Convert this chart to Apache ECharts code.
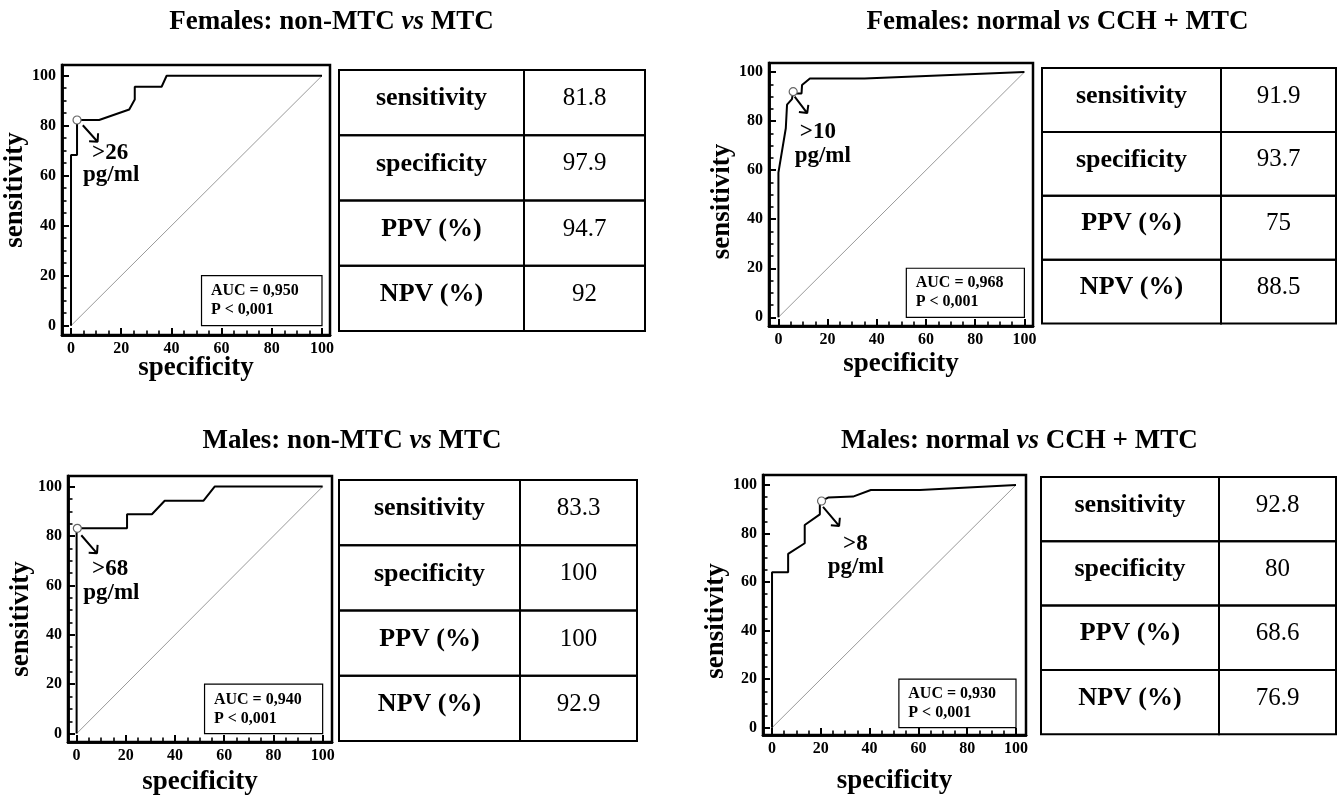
<!DOCTYPE html>
<html>
<head>
<meta charset="utf-8">
<title>ROC curves</title>
<script src="https://cdn.jsdelivr.net/npm/echarts@6/dist/echarts.min.js"></script>
<style>
html, body { margin: 0; padding: 0; background: #fff; }
#main { width: 1343px; height: 795px; }
</style>
</head>
<body>
<div id="main"></div>
<script>
// ---- data ----
// ROC curves, points are [specificity axis, sensitivity]
var rocFemNon = [[0,0],[0,68.3],[2.4,68.3],[2.4,82.3],[11.2,82.3],[23.2,86.5],[25.4,90.5],[25.4,95.6],[36.1,95.6],[38.1,100],[100,100]];
var rocFemCch = [[0,0],[0,59],[3,77.1],[3.5,86.7],[5.5,89],[6,92],[7,91.3],[9.4,91.3],[9.6,94.7],[12.8,97.4],[35,97.4],[100,100]];
var rocMalNon = [[0,0],[0,83.1],[20.5,83.1],[20.5,88.8],[30.6,88.8],[35.8,94.3],[51.6,94.3],[56.1,100],[100,100]];
var rocMalCch = [[0,0],[0,64],[6.6,64],[6.6,71.6],[13.4,76],[13.4,83.5],[19.6,87.9],[19.6,92],[20.3,93.4],[23,94.8],[33.2,95.2],[40.5,97.9],[60.6,97.9],[100,100]];

// optimal cut-off points
var cutPoints = [[2.4,82.3],[6,92],[0.3,83.1],[20.3,93.4]];
var cutLabels = ['>26', '>10', '>68', '>8'];
var cutUnit = 'pg/ml';

var aucValues = ['0,950', '0,968', '0,940', '0,930'];
var pValue = 'P < 0,001';

var titleGroups = ['Females: non-MTC', 'Females: normal', 'Males: non-MTC', 'Males: normal'];
var titleTargets = ['MTC', 'CCH + MTC', 'MTC', 'CCH + MTC'];

var tableRows = ['sensitivity', 'specificity', 'PPV (%)', 'NPV (%)'];
var femNonVals = ['81.8', '97.9', '94.7', '92'];
var femCchVals = ['91.9', '93.7', '75', '88.5'];
var malNonVals = ['83.3', '100', '100', '92.9'];
var malCchVals = ['92.8', '80', '68.6', '76.9'];

var majorTicks = [0, 20, 40, 60, 80, 100];
var minorTicks = [];
for (var t = 5; t < 100; t += 5) { if (t % 20 !== 0) minorTicks.push(t); }

// ---- layout ----
var SERIF = '"Liberation Serif", "Times New Roman", serif';
var panels = [
  { roc: rocFemNon, vals: femNonVals, grid: [62, 65, 268, 270], xr: [-3.59, 103.19], yr: [-3.72, 104.3], xGap: 33, yGap: 40, yPad: [0, 0, 0, 20],
    table: [339, 70, 185, 121, 65.25], title: [331.5, 22],
    cutTxt: [8.4, 69], unitTxt: [4.8, 60.3], arrow: [[4.7, 80.2], [10.6, 73.6]] },
  { roc: rocFemCch, vals: femCchVals, grid: [769, 63, 264, 263], xr: [-3.83, 103.5], yr: [-3.55, 103.7], xGap: 38, yGap: 45, yPad: [0, 14, 0, 0],
    table: [1042, 68, 179, 115, 63.9], title: [1057.5, 22],
    cutTxt: [8.7, 75.4], unitTxt: [6.6, 65.8], arrow: [[6.6, 90], [11.7, 83.3]] },
  { roc: rocMalNon, vals: malNonVals, grid: [68, 476, 264, 266], xr: [-3.5, 103.8], yr: [-3.4, 104.3], xGap: 40, yGap: 45, yPad: [0, 20, 0, 0],
    table: [339, 480, 181, 117, 65.25], title: [352, 441],
    cutTxt: [6.3, 66.6], unitTxt: [2.7, 57.1], arrow: [[1.9, 80.3], [8.3, 73]] },
  { roc: rocMalCch, vals: malCchVals, grid: [763, 475, 263, 260], xr: [-3.7, 104.1], yr: [-3.0, 104.1], xGap: 46, yGap: 41, yPad: [0, 32, 0, 0],
    table: [1041, 477, 178, 117, 64.3], title: [1019.4, 441],
    cutTxt: [29.1, 75.7], unitTxt: [22.8, 66], arrow: [[20.9, 91], [27.5, 83.1]] }
];
var aucBox = [[52, 0], [100, 20]];

function arrowPath(a) {
  // shaft plus two barbs of an open arrow head
  var s = a[0], e = a[1];
  var ang = Math.atan2(s[1] - e[1], s[0] - e[0]);
  var len = 3.4, spread = Math.PI / 4;
  var b1 = [e[0] + len * Math.cos(ang + spread), e[1] + len * Math.sin(ang + spread)];
  var b2 = [e[0] + len * Math.cos(ang - spread), e[1] + len * Math.sin(ang - spread)];
  return [s, e, b1, e, b2];
}

// fresh objects for every axis
function frameLine() { return { show: true, onZero: false, lineStyle: { color: '#000', width: 2.5 } }; }
function majorTick() { return { show: true, inside: true, length: 7, customValues: majorTicks.slice(), lineStyle: { color: '#000', width: 2 } }; }
function minorTick() { return { show: true, inside: true, length: 4.5, customValues: minorTicks.slice(), lineStyle: { color: '#000', width: 1.6 } }; }
function tickLabel(m) { return { customValues: majorTicks.slice(), margin: m, fontFamily: SERIF, fontWeight: 'bold', fontSize: 16, color: '#000' }; }

var myChart = echarts.init(document.getElementById('main'));
var option = {
  animation: false,
  backgroundColor: '#fff',
  grid: [], xAxis: [], yAxis: [], series: [], graphic: []
};

panels.forEach(function (p, i) {
  option.grid.push({ left: p.grid[0], top: p.grid[1], width: p.grid[2], height: p.grid[3],
    show: true, borderColor: '#000', borderWidth: 2.5, backgroundColor: 'transparent' });

  // major ticks + labels
  option.xAxis.push({ type: 'value', gridIndex: i, position: 'bottom', min: p.xr[0], max: p.xr[1],
    axisLine: frameLine(), splitLine: { show: false }, axisTick: majorTick(), axisLabel: tickLabel(6) });
  // minor ticks
  option.xAxis.push({ type: 'value', gridIndex: i, position: 'bottom', min: p.xr[0], max: p.xr[1],
    axisLine: frameLine(), splitLine: { show: false }, axisTick: minorTick(), axisLabel: { show: false } });

  option.yAxis.push({ type: 'value', gridIndex: i, position: 'left', min: p.yr[0], max: p.yr[1],
    name: 'sensitivity', nameLocation: 'middle', nameRotate: 90, nameGap: p.yGap,
    nameTextStyle: { fontFamily: SERIF, fontWeight: 'bold', fontSize: 27, color: '#000', verticalAlign: 'middle', padding: p.yPad },
    axisLine: frameLine(), splitLine: { show: false }, axisTick: majorTick(), axisLabel: tickLabel(6) });
  option.yAxis.push({ type: 'value', gridIndex: i, position: 'left', min: p.yr[0], max: p.yr[1],
    axisLine: frameLine(), splitLine: { show: false }, axisTick: minorTick(), axisLabel: { show: false } });

  var ax = { xAxisIndex: 2 * i, yAxisIndex: 2 * i };

  // reference diagonal
  option.series.push(Object.assign({ type: 'line', data: [[0, 0], [100, 100]], symbol: 'none', silent: true,
    lineStyle: { color: '#9a9a9a', width: 1 } }, ax));

  // ROC curve + AUC box
  option.series.push(Object.assign({ type: 'line', data: p.roc, symbol: 'none', silent: true,
    lineStyle: { color: '#000', width: 2 }, z: 3,
    markArea: { silent: true,
      itemStyle: { color: 'rgba(0,0,0,0)', borderColor: '#000', borderWidth: 1.2 },
      label: { show: true, position: 'insideLeft', distance: 10, color: '#000',
        fontFamily: SERIF, fontWeight: 'bold', fontSize: 16, lineHeight: 19,
        formatter: 'AUC = ' + aucValues[i] + '\n' + pValue },
      data: [[{ coord: aucBox[0] }, { coord: aucBox[1] }]] } }, ax));

  // arrow to cut-off
  option.series.push(Object.assign({ type: 'line', data: arrowPath(p.arrow), symbol: 'none', silent: true,
    lineStyle: { color: '#000', width: 2 }, z: 3 }, ax));

  // cut-off marker
  option.series.push(Object.assign({ type: 'scatter', data: [cutPoints[i]], symbol: 'circle', symbolSize: 8, silent: true,
    itemStyle: { color: '#fff', borderColor: '#666', borderWidth: 1.2, opacity: 1 }, z: 5 }, ax));

  // cut-off text
  option.series.push(Object.assign({ type: 'scatter', symbolSize: 0, silent: true,
    itemStyle: { opacity: 1 },
    data: [{ name: cutLabels[i], value: p.cutTxt }, { name: cutUnit, value: p.unitTxt }],
    label: { show: true, position: 'right', distance: 0, formatter: '{b}', color: '#000', opacity: 1,
      fontFamily: SERIF, fontWeight: 'bold', fontSize: 23 } }, ax));

  // x axis title, centred under the frame
  option.graphic.push({ type: 'text', silent: true,
    x: p.grid[0] + p.grid[2] / 2, y: p.grid[1] + p.grid[3] + p.xGap,
    style: { text: 'specificity', align: 'center', verticalAlign: 'middle', fill: '#000',
      fontFamily: SERIF, fontWeight: 'bold', fontSize: 27 } });

  // panel title
  option.graphic.push({ type: 'text', x: p.title[0], y: p.title[1], silent: true,
    style: { text: '{b|' + titleGroups[i] + ' }{i|vs}{b| ' + titleTargets[i] + '}',
      align: 'center', verticalAlign: 'middle',
      rich: { b: { fontFamily: SERIF, fontWeight: 'bold', fontSize: 27, fill: '#000' },
              i: { fontFamily: SERIF, fontWeight: 'bold', fontStyle: 'italic', fontSize: 27, fill: '#000' } } } });

  // table
  var tb = p.table;
  tableRows.forEach(function (r, k) {
    var y = tb[1] + k * tb[4];
    option.graphic.push({ type: 'rect', silent: true, shape: { x: tb[0], y: y, width: tb[2], height: tb[4] },
      style: { fill: 'none', stroke: '#000', lineWidth: 2 } });
    option.graphic.push({ type: 'rect', silent: true, shape: { x: tb[0] + tb[2], y: y, width: tb[3], height: tb[4] },
      style: { fill: 'none', stroke: '#000', lineWidth: 2 } });
    option.graphic.push({ type: 'text', silent: true, x: tb[0] + tb[2] / 2, y: y + tb[4] / 2 - 4,
      style: { text: r, align: 'center', verticalAlign: 'middle', fill: '#000',
        fontFamily: SERIF, fontWeight: 'bold', fontSize: 26 } });
    option.graphic.push({ type: 'text', silent: true, x: tb[0] + tb[2] + tb[3] / 2, y: y + tb[4] / 2 - 4,
      style: { text: p.vals[k], align: 'center', verticalAlign: 'middle', fill: '#000',
        fontFamily: SERIF, fontSize: 25 } });
  });
});

myChart.setOption(option);
</script>
</body>
</html>
